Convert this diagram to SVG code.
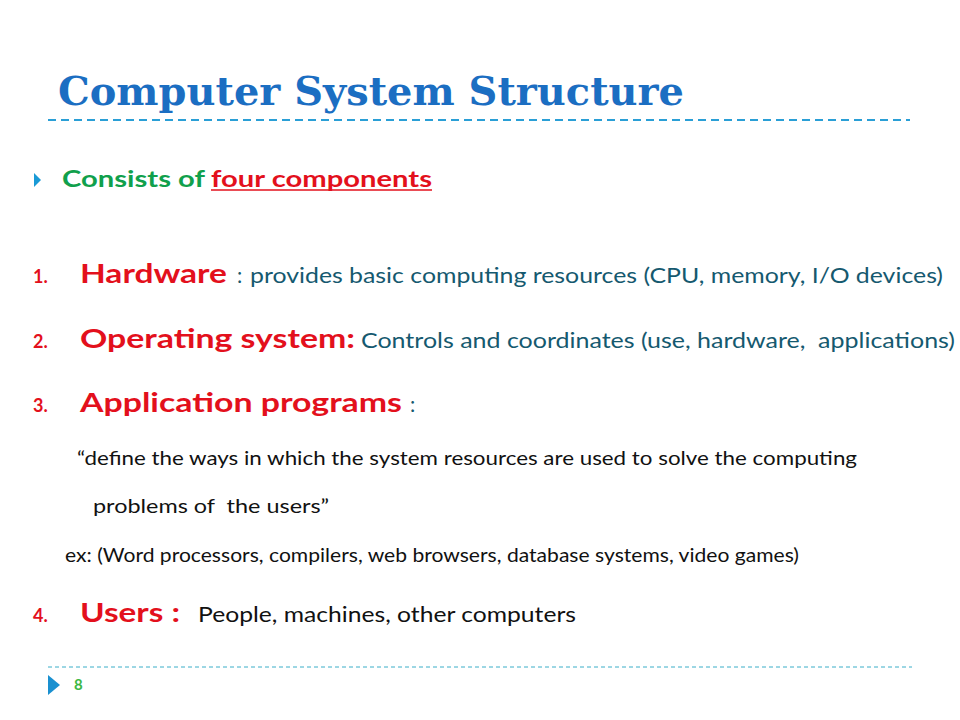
<svg xmlns="http://www.w3.org/2000/svg" width="960" height="720" viewBox="0 0 960 720">
<style>
.title{font-family:"DejaVu Serif","Liberation Serif",serif;font-weight:bold;font-size:40px;fill:#1b6ec2}
.num{font-family:Lato,sans-serif;font-weight:bold;font-size:18px;fill:#e3101c}
.head{font-family:Lato,sans-serif;font-weight:bold;font-size:27px;fill:#e3101c}
.desc{font-family:Lato,sans-serif;font-size:21px;fill:#15596f}
.body{font-family:Lato,sans-serif;font-size:19px;fill:#111;white-space:pre}
.blk{font-family:Lato,sans-serif;font-size:22px;fill:#111}
</style>
<rect width="960" height="720" fill="#ffffff"/>
<g id="title">
<text class="title" x="58" y="105" textLength="626" lengthAdjust="spacingAndGlyphs">Computer System Structure</text>
<line x1="48" y1="120" x2="910" y2="120" stroke="#2a9fd6" stroke-width="2" stroke-dasharray="8,5"/>
</g>
<g id="intro">
<polygon points="34,173 41,180 34,187" fill="#1a9ad6"/>
<text x="62" y="187" font-family="Lato,sans-serif" font-weight="bold" font-size="22" fill="#10a04c" textLength="143" lengthAdjust="spacingAndGlyphs">Consists of</text>
<text x="211" y="187" font-family="Lato,sans-serif" font-weight="bold" font-size="22" fill="#e3101c" textLength="221" lengthAdjust="spacingAndGlyphs">four components</text>
<line x1="211" y1="190" x2="432" y2="190" stroke="#e3101c" stroke-width="1.5"/>
</g>
<g id="item1">
<text class="num" x="33" y="283">1.</text>
<text class="head" x="80" y="283" textLength="147" lengthAdjust="spacingAndGlyphs">Hardware</text>
<text class="desc" x="237" y="283">:</text>
<text class="desc" x="250" y="283" textLength="693" lengthAdjust="spacingAndGlyphs">provides basic computing resources (CPU, memory, I/O devices)</text>
</g>
<g id="item2">
<text class="num" x="33" y="348">2.</text>
<text class="head" x="80" y="348" textLength="275" lengthAdjust="spacingAndGlyphs">Operating system:</text>
<text class="desc" x="361" y="348" textLength="594" lengthAdjust="spacingAndGlyphs" style="white-space:pre">Controls and coordinates (use, hardware,  applications)</text>
</g>
<g id="item3">
<text class="num" x="33" y="412">3.</text>
<text class="head" x="80" y="412" textLength="322" lengthAdjust="spacingAndGlyphs">Application programs</text>
<text class="desc" x="410" y="412">:</text>
<text class="body" x="77" y="465" textLength="780" lengthAdjust="spacingAndGlyphs">“define the ways in which the system resources are used to solve the computing</text>
<text class="body" x="93" y="513" textLength="236" lengthAdjust="spacingAndGlyphs">problems of  the users”</text>
<text class="body" x="65" y="562" textLength="734" lengthAdjust="spacingAndGlyphs">ex: (Word processors, compilers, web browsers, database systems, video games)</text>
</g>
<g id="item4">
<text class="num" x="33" y="622">4.</text>
<text class="head" x="80" y="622" textLength="100" lengthAdjust="spacingAndGlyphs">Users :</text>
<text class="blk" x="198" y="622" textLength="378" lengthAdjust="spacingAndGlyphs">People, machines, other computers</text>
</g>
<g id="footer">
<line x1="48" y1="667" x2="912" y2="667" stroke="#3aaec8" stroke-width="1" stroke-dasharray="4,3"/>
<polygon points="48,675 60,685 48,695" fill="#1a90d0"/>
<text x="74" y="690" font-family="Lato,sans-serif" font-weight="bold" font-size="15" fill="#3cb843">8</text>
</g>
</svg>
